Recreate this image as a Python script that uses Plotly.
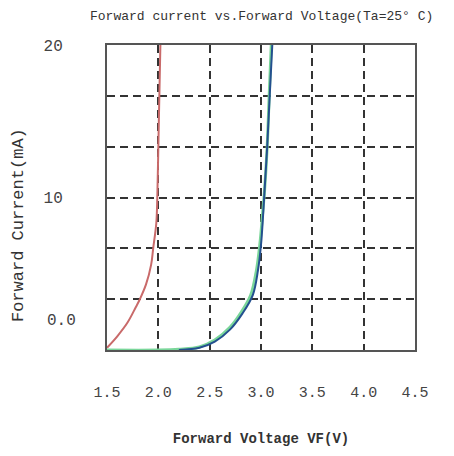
import plotly.graph_objects as go

# Data
red_v = [1.5, 1.6, 1.7, 1.78, 1.82, 1.88, 1.93, 1.95, 1.98, 1.99, 2.0, 2.01, 2.02]
red_i = [0.15, 0.9, 1.8, 2.8, 3.33, 4.3, 5.6, 6.67, 8.3, 10.0, 13.3, 16.7, 20.0]

green_v = [1.5, 2.0, 2.2, 2.4, 2.55, 2.7, 2.81, 2.9, 2.955, 2.99, 3.015, 3.035, 3.06, 3.08, 3.1]
green_i = [0.0, 0.0, 0.05, 0.2, 0.65, 1.5, 2.5, 3.6, 5.2, 7.0, 8.9, 10.5, 13.3, 16.7, 20.0]

blue_v = [2.2, 2.4, 2.55, 2.7, 2.82, 2.92, 2.97, 3.0, 3.02, 3.035, 3.06, 3.085, 3.11]
blue_i = [0.0, 0.15, 0.55, 1.35, 2.4, 3.6, 5.2, 6.9, 8.8, 10.5, 13.3, 16.7, 20.0]

x_ticks = [1.5, 2.0, 2.5, 3.0, 3.5, 4.0, 4.5]
x_ticktext = ["1.5", "2.0", "2.5", "3.0", "3.5", "4.0", "4.5"]
y_gridvals = [0, 20/6, 40/6, 10, 80/6, 100/6, 20]
y_ticktext = ["", "", "", "10", "", "", "20"]
y_extra_label = "0.0"
y_extra_label_val = 1.9

MONO = "Liberation Mono"
W, H = 446, 448  # page body has an 8px margin

fig = go.Figure()
fig.add_trace(go.Scatter(x=red_v, y=red_i, mode="lines", line=dict(color="#c96a6a", width=2, shape="spline"), showlegend=False))
fig.add_trace(go.Scatter(x=green_v, y=green_i, mode="lines", line=dict(color="#7ad69a", width=3, shape="spline"), showlegend=False))
fig.add_trace(go.Scatter(x=blue_v, y=blue_i, mode="lines", line=dict(color="#24508f", width=2, shape="spline"), showlegend=False))

fig.update_layout(
    width=W, height=H,
    margin=dict(l=99, r=39, t=37, b=101),
    paper_bgcolor="white", plot_bgcolor="white",
    font=dict(family=MONO, color="#444", size=15),
    title=dict(text="Forward current vs.Forward Voltage(Ta=25° C)", x=82/W, xanchor="left",
               y=1 - 7/H, yanchor="middle", font=dict(family=MONO, size=13, color="#333")),
)
fig.update_xaxes(
    range=[1.5, 4.5], tickvals=x_ticks, ticktext=x_ticktext,
    tickfont=dict(family=MONO, size=15, color="#444"),
    showgrid=True, gridcolor="#333", gridwidth=2, griddash="8px,5px",
    showline=True, linecolor="#555", linewidth=2, mirror=True,
    ticks="", ticklabelstandoff=27, zeroline=False,
    title=dict(text="Forward Voltage VF(V)", font=dict(family=MONO, size=14, color="#333", weight="bold"), standoff=32),
)
fig.update_yaxes(
    range=[0, 20], tickvals=y_gridvals, ticktext=y_ticktext,
    tickfont=dict(family=MONO, size=16, color="#444"),
    showgrid=True, gridcolor="#333", gridwidth=2, griddash="8px,5px",
    showline=True, linecolor="#555", linewidth=2, mirror=True,
    ticks="", ticklabelstandoff=39, zeroline=False,
)
fig.add_annotation(x=1.5, y=y_extra_label_val, xref="x", yref="y", text=y_extra_label,
                   showarrow=False, xanchor="right", xshift=-29,
                   font=dict(family=MONO, size=16, color="#444"))
fig.add_annotation(x=0, y=(355 - 228) / 310, xref="paper", yref="paper", text="Forward Current(mA)",
                   textangle=-90, showarrow=False, xanchor="center", yanchor="middle", xshift=-89,
                   font=dict(family=MONO, size=17, color="#333")),
fig.write_html("out.html")
